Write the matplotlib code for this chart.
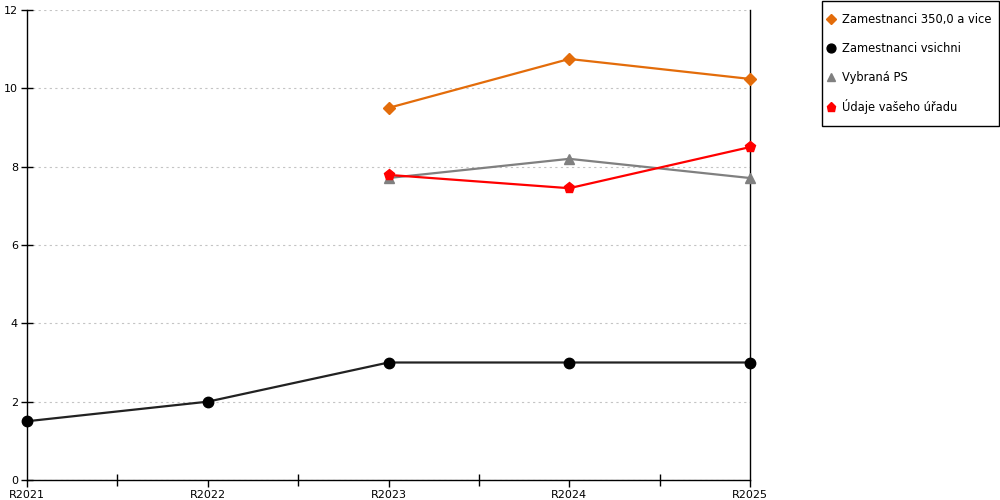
import matplotlib.pyplot as plt
from matplotlib.lines import Line2D
from matplotlib.patches import Rectangle
from matplotlib.ticker import MultipleLocator

categories = ['R2021', 'R2022', 'R2023', 'R2024', 'R2025']

# series values (None = no data)
zam_350 = [None, None, 9.5, 10.75, 10.24]
zam_vsichni = [1.5, 2.0, 3.0, 3.0, 3.0]
vybrana_ps = [None, None, 7.71, 8.2, 7.71]
vas_urad = [None, None, 7.79, 7.45, 8.5]

labels = ['Zamestnanci 350,0 a vice', 'Zamestnanci vsichni',
          'Vybraná PS', 'Údaje vašeho úřadu']

plt.rcParams['font.family'] = ['DejaVu Sans']
plt.rcParams['font.size'] = 8

fig = plt.figure(figsize=(10, 5), dpi=100)
ax = fig.add_axes([0.027, 0.04, 0.723, 0.94])

x = list(range(len(categories)))


def pts(vals):
    xs = [i for i, v in zip(x, vals) if v is not None]
    ys = [v for v in vals if v is not None]
    return xs, ys


styles = [
    (zam_350, '#E36C0A', 'D', 6.0),
    (zam_vsichni, '#000000', 'o', 7.5),
    (vybrana_ps, '#808080', '^', 7.5),
    (vas_urad, '#FF0000', 'p', 8.0),
]

handles = []
for (vals, col, mk, ms), lab in zip(styles, labels):
    xs, ys = pts(vals)
    lc = '#222222' if col == '#000000' else col
    ax.plot(xs, ys, color=lc, lw=1.6, marker=mk, ms=ms,
            mfc=col, mec=col, zorder=3, clip_on=False)
    handles.append(Line2D([], [], ls='none', marker=mk, ms=ms * 0.85,
                          mfc=col, mec=col, label=lab))

ax.set_xlim(0, 4)
ax.set_ylim(0, 12)
ax.set_xticks(x)
ax.set_xticklabels(categories)
ax.xaxis.set_minor_locator(MultipleLocator(0.5))
ax.yaxis.set_major_locator(MultipleLocator(2))

ax.grid(axis='y', color='#C4C4C4', ls=(0, (2, 3)), lw=0.8)
ax.set_axisbelow(True)

ax.spines['top'].set_visible(False)
for s in ['left', 'bottom', 'right']:
    ax.spines[s].set_linewidth(1.0)
    ax.spines[s].set_color('black')

ax.tick_params(axis='x', which='major', direction='out', length=5, width=1, pad=2)
ax.tick_params(axis='x', which='minor', direction='inout', length=9, width=1)
ax.tick_params(axis='y', direction='inout', length=9, width=1, pad=2)

# legend frame drawn separately
fig.patches.append(Rectangle((0.8215, 0.749), 0.1775, 0.249, transform=fig.transFigure,
                             fill=False, ec='black', lw=1.0))
fig.legend(handles=handles, loc='upper left',
           bbox_to_anchor=(0.826, 0.973), fontsize=8.3,
           handlelength=0.8, handletextpad=0.6, labelspacing=1.35,
           borderpad=0, borderaxespad=0, frameon=False)

fig.savefig('out.png', dpi=100)
